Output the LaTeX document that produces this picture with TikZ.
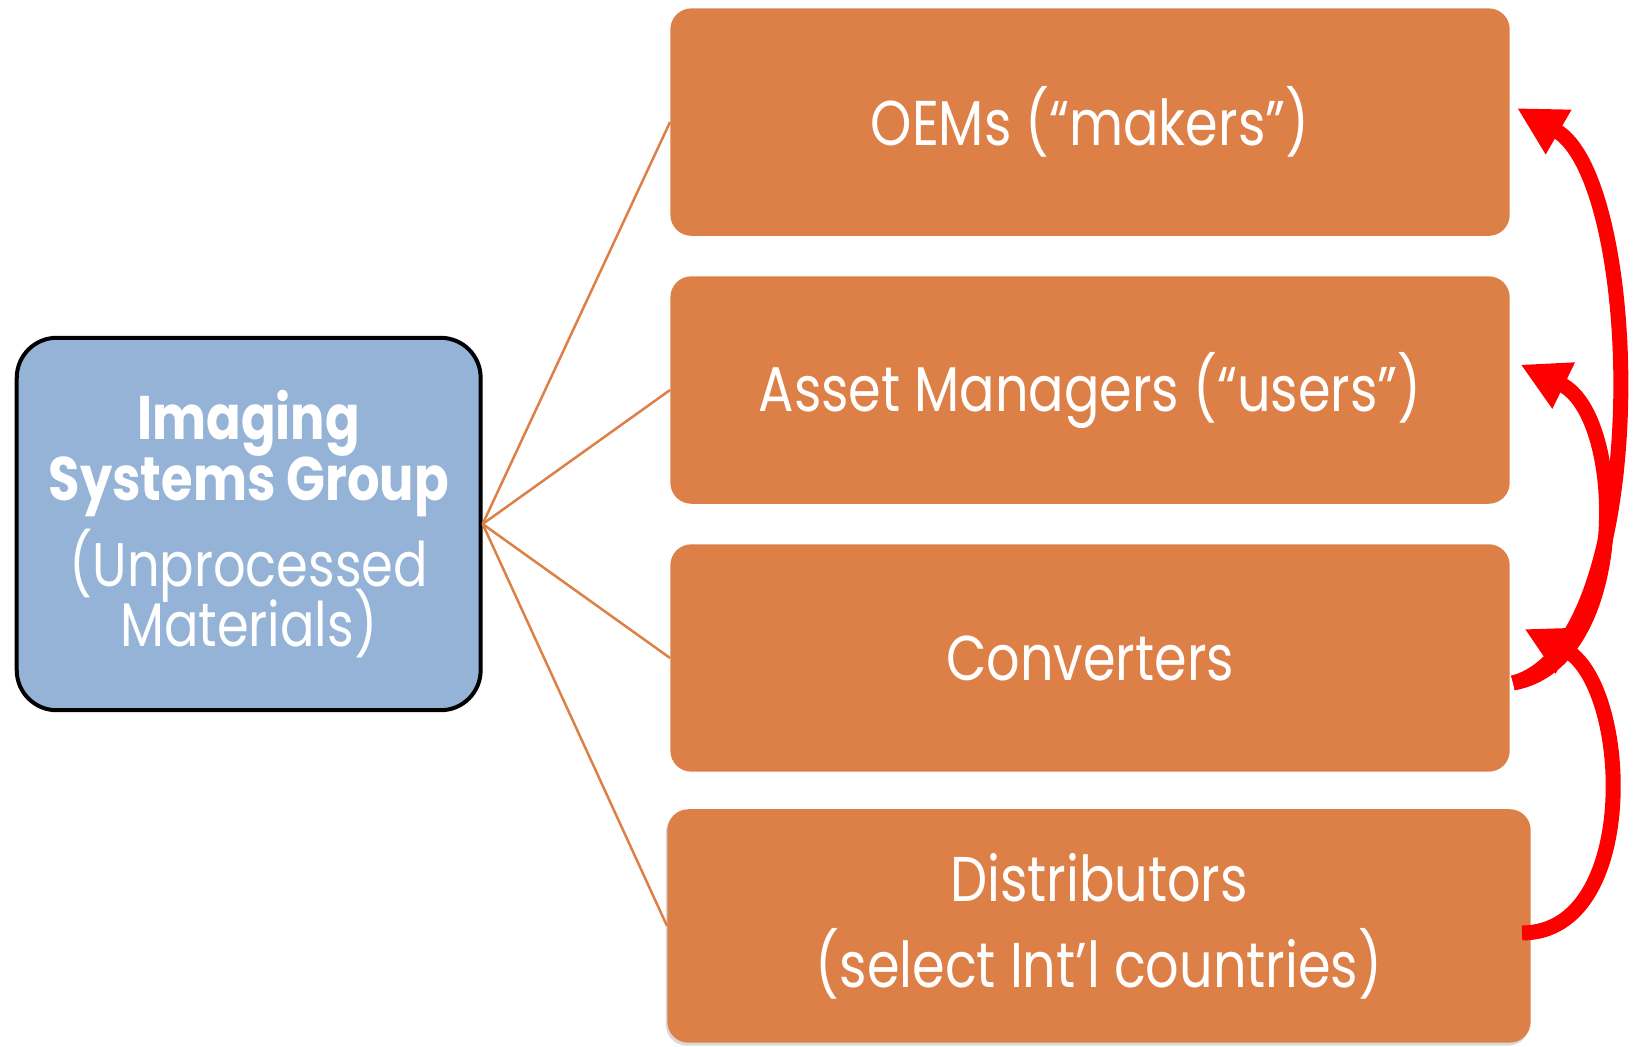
\documentclass[tikz,border=0pt]{standalone}
\usepackage{fontspec}
\setmainfont{Poppins}[FakeStretch=0.83]
\usetikzlibrary{arrows.meta,shadows}
\definecolor{boxorange}{HTML}{DD8047}
\definecolor{groupblue}{HTML}{95B3D7}
\newcommand\tightlines{\lineskiplimit-100pt\relax}
\begin{document}
\begin{tikzpicture}[x=0.02cm, y=-0.02cm,
grow'=right, level distance=16.83cm, sibling distance=5.36cm,
parent anchor=east, child anchor=west,
edge from parent/.style={draw=boxorange, line width=0.05cm},
group/.style={draw=black, line width=0.08cm, fill=groupblue, rounded corners=0.8cm,
  minimum width=9.28cm, minimum height=7.45cm, text=white, align=center,
  font=\fontsize{35}{35}\selectfont\tightlines},
market/.style={fill=boxorange, rounded corners=0.42cm, minimum width=16.79cm,
  minimum height=4.55cm, text=white, align=center, font=\fontsize{36}{49}\selectfont},
flow/.style={draw=red, line width=0.3cm, -{Triangle[length=0.96cm, width=0.96cm]}}]
\useasboundingbox (0,0) rectangle (1635,1046);
\node[group] (isg) at (248.7,524) {\textbf{Imaging}\\\textbf{Systems Group}\\[14pt](Unprocessed\\[-1pt]Materials)}
    child { node[market] (oem) {OEMs (“makers”)} }
    child { node[market] (am) {Asset Managers (“users”)} }
    child { node[market] (conv) {Converters} }
    child { node[market, minimum width=17.27cm, minimum height=4.67cm, xshift=0.18cm,
        drop shadow={shadow xshift=-0.03cm, shadow yshift=-0.06cm, opacity=0.3}] (dist)
        {Distributors\\(select Int’l countries)} };
\draw[flow] ([xshift=0.06cm, yshift=-0.5cm]conv.east) to[out=15, in=-30, looseness=0.65] ([xshift=0.14cm, yshift=0.28cm]oem.east);
\draw[flow] ([xshift=0.06cm, yshift=-0.5cm]conv.east) to[out=10, in=-26, looseness=0.95] ([xshift=0.21cm, yshift=0.51cm]am.east);
\draw[flow] ([xshift=-0.18cm, yshift=-0.14cm]dist.east) to[out=0, in=-27, looseness=1.0] ([xshift=0.29cm, yshift=0.58cm]conv.east);
\end{tikzpicture}
\end{document}
